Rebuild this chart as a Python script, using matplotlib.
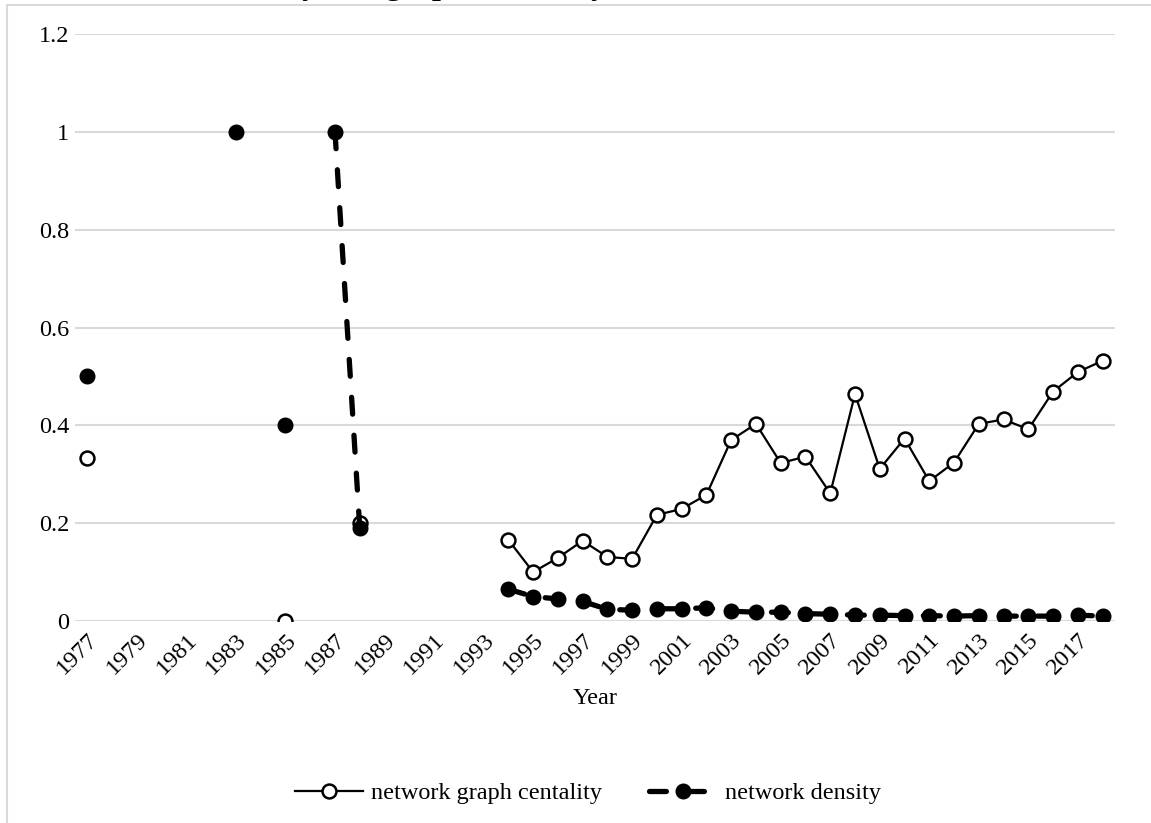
import numpy as np
import matplotlib
matplotlib.use("Agg")
import matplotlib.pyplot as plt
from matplotlib.lines import Line2D

plt.rcParams['font.family'] = ['Liberation Serif', 'DejaVu Serif']

years = list(range(1977, 2019))
nan = np.nan

centrality = {
    1977: 0.333, 1985: 0.0, 1988: 0.20,
    1994: 0.166, 1995: 0.100, 1996: 0.129, 1997: 0.164, 1998: 0.131,
    1999: 0.127, 2000: 0.217, 2001: 0.229, 2002: 0.258, 2003: 0.370,
    2004: 0.403, 2005: 0.323, 2006: 0.336, 2007: 0.261, 2008: 0.464,
    2009: 0.311, 2010: 0.373, 2011: 0.286, 2012: 0.324, 2013: 0.403,
    2014: 0.412, 2015: 0.392, 2016: 0.469, 2017: 0.509, 2018: 0.532,
}
density = {
    1977: 0.5, 1983: 1.0, 1985: 0.4, 1987: 1.0, 1988: 0.19,
    1994: 0.065, 1995: 0.050, 1996: 0.045, 1997: 0.040, 1998: 0.024,
    1999: 0.022, 2000: 0.025, 2001: 0.025, 2002: 0.027, 2003: 0.020,
    2004: 0.018, 2005: 0.018, 2006: 0.015, 2007: 0.014, 2008: 0.012,
    2009: 0.012, 2010: 0.011, 2011: 0.011, 2012: 0.010, 2013: 0.011,
    2014: 0.010, 2015: 0.010, 2016: 0.010, 2017: 0.012, 2018: 0.010,
}

cent_vals = np.array([centrality.get(y, nan) for y in years])
dens_vals = np.array([density.get(y, nan) for y in years])
tick_labels = [str(y) if (y - 1977) % 2 == 0 else "" for y in years]

FS = 17.5
W, H = 1151, 823
fig = plt.figure(figsize=(W / 100, H / 100), dpi=100)
ax = fig.add_axes([75 / W, 1 - 621 / H, (1115 - 75) / W, (621 - 34) / H])

x = np.arange(len(years))
ax.plot(x, cent_vals, color='black', lw=1.6, marker='o', ms=10,
        mfc='white', mec='black', mew=1.8, label='network graph centality', zorder=3)
ax.plot(x, dens_vals, color='black', lw=3.8, ls=(0, (3.2, 4.0)),
        dash_capstyle='round', marker='o', ms=10.5, mfc='black', mec='black',
        label='network density', zorder=4)

ax.set_xlim(-0.5, len(years) - 0.5)
ax.set_ylim(0, 1.2)
ax.set_yticks([0, 0.2, 0.4, 0.6, 0.8, 1.0, 1.2])
ax.set_yticklabels(['0', '0.2', '0.4', '0.6', '0.8', '1', '1.2'], fontsize=FS)
ax.set_xticks(x)
ax.set_xticklabels(tick_labels, rotation=45, ha='right', rotation_mode='anchor', fontsize=FS)
ax.tick_params(axis='both', length=0)
ax.tick_params(axis='y', pad=4)
ax.tick_params(axis='x', pad=6)
for s in ax.spines.values():
    s.set_visible(False)
ax.grid(axis='y', color='#d9d9d9', lw=1.5)
ax.set_axisbelow(True)
ax.set_xlabel('Year', fontsize=FS, labelpad=7)

leg = fig.legend(loc='center', bbox_to_anchor=(588 / W, 1 - 793 / H), ncol=2,
                 frameon=False, fontsize=FS, handlelength=2.8, columnspacing=1.9,
                 handletextpad=0.35)

# chart-area border (left and top visible)
fig.add_artist(Line2D([7 / W, 7 / W], [-0.1, 1 - 5 / H], color='#d9d9d9', lw=1.5,
                      transform=fig.transFigure))
fig.add_artist(Line2D([7 / W, 1.1], [1 - 5 / H, 1 - 5 / H], color='#d9d9d9', lw=1.5,
                      transform=fig.transFigure))

# title, mostly cropped off the top of the image (only descenders visible)
fig.text(93 / W, 1 + 6 / H, 'Network density and graph centrality over time',
         fontsize=23, fontweight='bold', ha='left', va='baseline')

fig.savefig('out.png', dpi=100)
